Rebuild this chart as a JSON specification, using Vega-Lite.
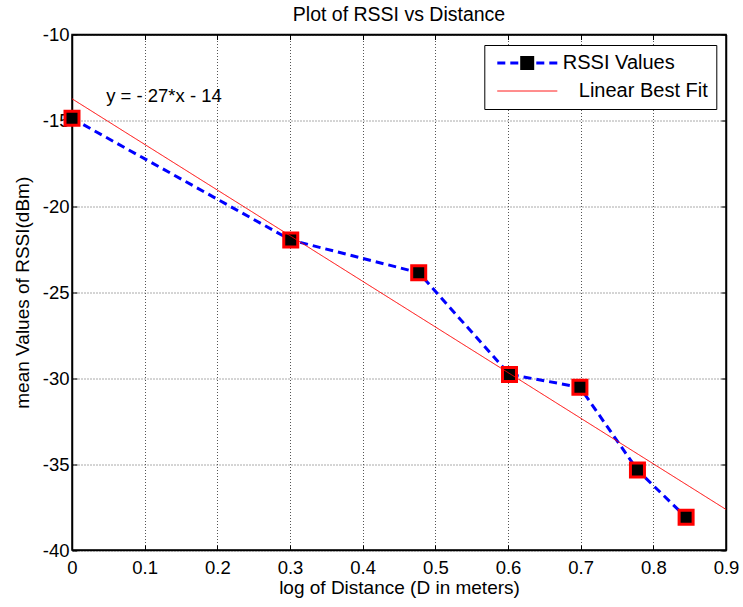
{
  "$schema": "https://vega.github.io/schema/vega-lite/v6.json",
  "width": 654,
  "height": 515.5,
  "autosize": {"type": "none"},
  "padding": {"left": 72, "top": 34.5, "right": 17, "bottom": 57},
  "background": "white",
  "title": {"text": "Plot of RSSI vs Distance", "fontSize": 19.5, "fontWeight": "normal", "font": "Liberation Sans", "color": "black", "offset": 0, "anchor": "middle"},
  "data": {
    "values": [
      {"x": 0, "y": -14.88, "series": "RSSI Values"},
      {"x": 0.30103, "y": -21.96, "series": "RSSI Values"},
      {"x": 0.47712, "y": -23.86, "series": "RSSI Values"},
      {"x": 0.60206, "y": -29.78, "series": "RSSI Values"},
      {"x": 0.69897, "y": -30.53, "series": "RSSI Values"},
      {"x": 0.77815, "y": -35.35, "series": "RSSI Values"},
      {"x": 0.8451, "y": -38.1, "series": "RSSI Values"},
      {"x": 0, "y": -13.74, "series": "Linear Best Fit"},
      {"x": 0.9, "y": -37.64, "series": "Linear Best Fit"}
    ]
  },
  "encoding": {
    "x": {"field": "x", "type": "quantitative", "scale": {"domain": [0, 0.9], "nice": false, "zero": false},
      "axis": {"values": [0, 0.1, 0.2, 0.3, 0.4, 0.5, 0.6, 0.7, 0.8, 0.9], "labelExpr": "'' + datum.value", "title": "log of Distance (D in meters)", "labelPadding": 13, "titlePadding": 2, "labelFlush": false, "labelOverlap": false}},
    "y": {"field": "y", "type": "quantitative", "scale": {"domain": [-40, -10], "nice": false, "zero": false},
      "axis": {"values": [-40, -35, -30, -25, -20, -15, -10], "labelExpr": "'' + datum.value", "title": "mean Values of RSSI(dBm)", "labelPadding": 8, "titlePadding": 10, "labelFlush": false, "labelOverlap": false}}
  },
  "layer": [
    {
      "transform": [{"filter": "datum.series == 'RSSI Values'"}],
      "mark": {"type": "line", "strokeCap": "butt"},
      "encoding": {
        "color": {"field": "series", "type": "nominal", "scale": {"domain": ["RSSI Values", "Linear Best Fit"], "range": ["#0000ff", "#ff0000"]},
          "legend": {"orient": "none", "legendX": 412.3, "legendY": 10.5, "title": null, "symbolType": "M-1,0H11", "symbolSize": 100, "labelFontSize": 20, "labelFont": "Liberation Sans", "labelColor": "black", "labelOffset": 50.5, "padding": 8, "strokeColor": "black", "fillColor": "white", "rowPadding": 8,
            "encode": {"labels": {"update": {"dx": {"signal": "datum.value == 'Linear Best Fit' ? 16 : 0"}}}}}},
        "strokeDash": {"field": "series", "type": "nominal", "scale": {"domain": ["RSSI Values", "Linear Best Fit"], "range": [[8, 5], [1, 0]]}},
        "strokeWidth": {"field": "series", "type": "nominal", "scale": {"domain": ["RSSI Values", "Linear Best Fit"], "range": [3, 1]}}
      }
    },
    {
      "transform": [{"filter": "datum.series == 'RSSI Values'"}],
      "mark": {"type": "point", "fill": "black", "stroke": "#ff0000", "strokeWidth": 3, "size": 196, "opacity": 1, "fillOpacity": 1},
      "encoding": {
        "x": {"field": "x", "type": "quantitative", "axis": null},
        "y": {"field": "y", "type": "quantitative", "axis": null},
        "shape": {"field": "series", "type": "nominal", "scale": {"domain": ["RSSI Values"], "range": ["square"]},
          "legend": {"orient": "none", "legendX": 446.7, "legendY": 20, "title": null, "labelExpr": "''", "padding": 0, "symbolSize": 196, "symbolFillColor": "black", "symbolStrokeColor": "#ff0000", "symbolStrokeWidth": 3, "symbolOpacity": 1,
            "encode": {"symbols": {"update": {"stroke": {"value": "#ff0000"}, "strokeWidth": {"value": 3}, "fill": {"value": "black"}, "opacity": {"value": 1}}}}}}
      }
    },
    {
      "transform": [{"filter": "datum.series != 'RSSI Values'"}],
      "mark": {"type": "line", "strokeCap": "butt"},
      "encoding": {
        "x": {"field": "x", "type": "quantitative", "axis": null},
        "y": {"field": "y", "type": "quantitative", "axis": null},
        "color": {"field": "series", "type": "nominal"},
        "strokeDash": {"field": "series", "type": "nominal"},
        "strokeWidth": {"field": "series", "type": "nominal"}
      }
    },
    {
      "data": {"values": [{"x": 0.047, "y": -13.92, "label": "y = - 27*x - 14"}]},
      "mark": {"type": "text", "align": "left", "baseline": "alphabetic", "fontSize": 18.5, "font": "Liberation Sans", "color": "black"},
      "encoding": {
        "x": {"field": "x", "type": "quantitative", "axis": null},
        "y": {"field": "y", "type": "quantitative", "axis": null},
        "text": {"field": "label"}
      }
    },
    {
      "mark": {"type": "point", "opacity": 0},
      "encoding": {
        "x": {"field": "x", "type": "quantitative", "axis": {"orient": "top", "values": [0, 0.1, 0.2, 0.3, 0.4, 0.5, 0.6, 0.7, 0.8, 0.9], "labels": false, "title": null, "grid": false}},
        "y": {"field": "y", "type": "quantitative", "axis": {"orient": "right", "values": [-40, -35, -30, -25, -20, -15, -10], "labels": false, "title": null, "grid": false}}
      }
    }
  ],
  "resolve": {"axis": {"x": "independent", "y": "independent"}},
  "config": {
    "font": "Liberation Sans",
    "view": {"stroke": "black", "strokeWidth": 1.5},
    "axis": {"domainColor": "black", "domainWidth": 1.5, "tickColor": "black", "tickSize": -5, "tickWidth": 1, "labelFont": "Liberation Sans", "labelFontSize": 18.5, "labelColor": "black", "titleFont": "Liberation Sans", "titleFontSize": 19, "titleFontWeight": "normal", "titleColor": "black", "grid": true, "gridColor": "#555", "gridDash": [1, 2], "gridWidth": 1, "gridOpacity": 1}
  }
}
